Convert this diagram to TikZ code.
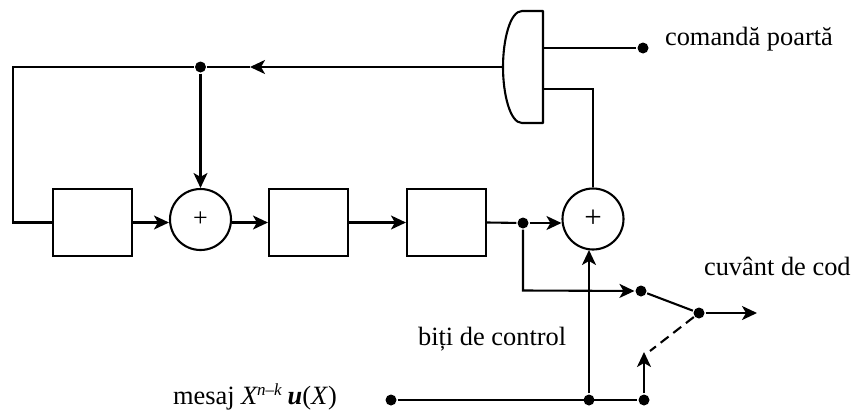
\documentclass[tikz,border=0pt]{standalone}
\usepackage{fontspec}
\setmainfont{Liberation Serif}
\usetikzlibrary{arrows.meta}
\tikzset{
  tip/.style={-{Stealth[length=15pt,width=14pt,inset=4pt]}},
  reg/.style={draw,minimum width=79pt,minimum height=67pt,inner sep=0pt},
  adder/.style={draw,circle,minimum size=61pt,inner sep=0pt},
  dot/.style={circle,fill=black,minimum size=11pt,inner sep=0pt},
  lab/.style={font=\fontsize{26.4}{30}\selectfont,inner sep=0pt,anchor=base west},
}
\begin{document}
\begin{tikzpicture}[x=1pt,y=-1pt,line width=2.1pt]
\useasboundingbox (0,0) rectangle (853,410);
\node[reg] (r1) at (92.5,222.5) {};
\node[reg] (r2) at (308.5,222.5) {};
\node[reg] (r3) at (446.5,222.5) {};
\node[adder] (s1) at (200.5,219.5) {\fontsize{26}{26}\selectfont +};
\node[adder] (s2) at (593,219) {\fontsize{31}{31}\selectfont +};
% gate
\coordinate (gt) at (543,11);
\coordinate (gb) at (543,123);
\coordinate (gout) at (503,67);
\draw[line join=round] (gb) -- (gt) -- (522,11) .. controls (510,11) and (503,40) .. (gout)
  .. controls (503,94) and (510,123) .. (522,123) -- cycle;
\coordinate (gi1) at (543,48);
\coordinate (gi2) at (543,89);
\node[dot] (cmd) at (643,48) {};
\node[dot] (fb) at (200.5,67) {};
\node[dot] (d1) at (523,223) {};
\node[dot] (sw1) at (641,291) {};
\node[dot] (sw) at (699,313) {};
\node[dot] (in) at (391,400) {};
\node[dot] (d2) at (589,400) {};
\node[dot] (d3) at (644,400) {};
\coordinate (out) at (757,313);
\coordinate (up) at (644,352);
\coordinate (dashend) at (650,351);
\coordinate (left) at (13,67);
\coordinate (leftb) at (13,222.5);
\coordinate (mid) at (250,67);
\coordinate (c2) at (523,290.5);
\coordinate (c3) at (593,89);
% connectors
\draw (gi1) -- (cmd);
\draw (gi2) -- (c3) -- (s2.north);
\draw[tip] (gout) -- (mid);
\draw (mid) -- (fb);
\draw (fb) -- (left) -- (leftb) -- (r1.west);
\draw[tip] (fb) -- (s1.north);
\draw[tip] (r1.east) -- (r1.east -| s1.west);
\draw[tip] (r1.east -| s1.east) -- (r2.west);
\draw[tip] (r2.east) -- (r3.west);
\draw (r3.east) -- (d1);
\draw[tip] (d1) -- (d1 -| s2.west);
\draw[tip] (d1) -- (c2) -- (sw1);
\draw (sw1) -- (sw);
\draw[tip] (sw) -- (out);
\draw[dashed,dash pattern=on 10pt off 6pt] (sw) -- (dashend);
\draw (in) -- (d3);
\draw[tip] (d2) -- (589,250);
\draw[tip] (d3) -- (up);
% labels
\node[lab] (t1) at (664,45) {comandă poartă};
\node[lab] (t2) at (703,275) {cuvânt de cod};
\node[lab] (t3) at (417,345) {biți de control};
\node[lab] (t4) at (172,404) {mesaj \textit{X}\kern-1pt\raisebox{9pt}{\fontsize{17}{17}\selectfont\textit{n–k}}\kern-1pt\ \textit{\textbf{u}}(\textit{X})};
\end{tikzpicture}
\end{document}
